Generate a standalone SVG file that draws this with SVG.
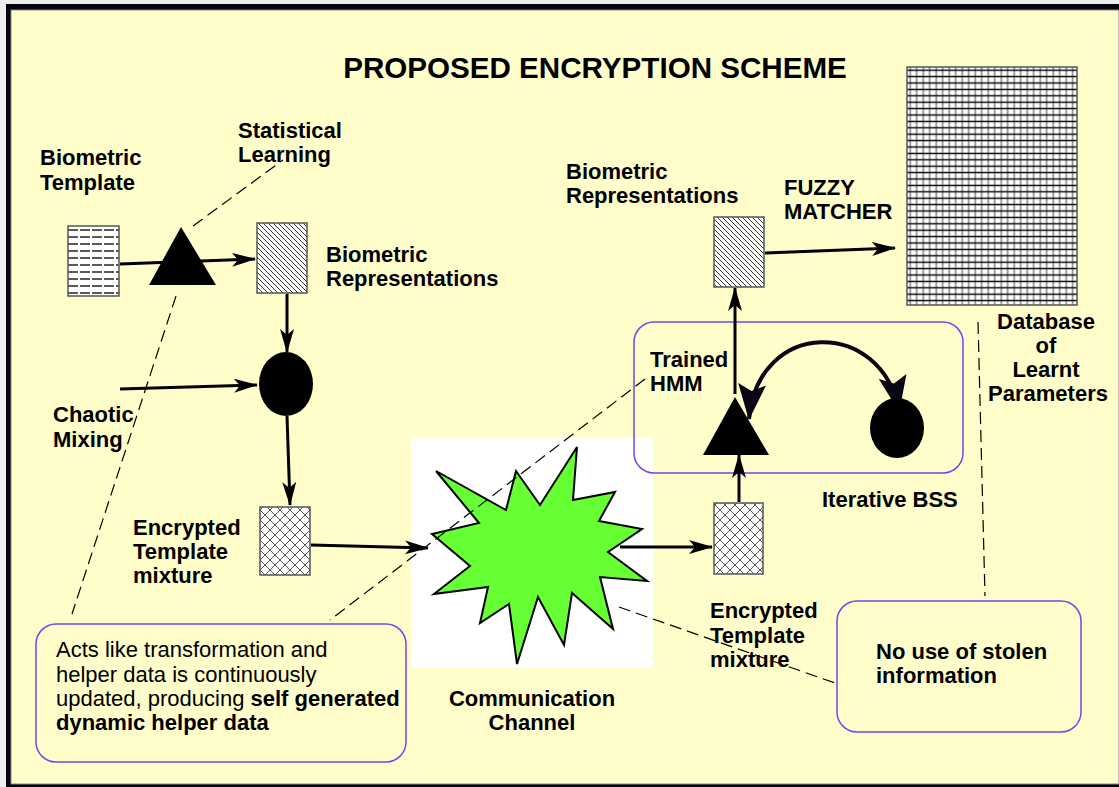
<svg xmlns="http://www.w3.org/2000/svg" width="1119" height="787" viewBox="0 0 1119 787">
<defs>
<style>
.t{font-family:"Liberation Sans",Arial,sans-serif;font-size:22px;font-weight:bold;fill:#000}
.n{font-family:"Liberation Sans",Arial,sans-serif;font-size:22px;fill:#000}
.box{stroke:#555;stroke-width:1.5}
.conn{stroke:#000;stroke-width:3;fill:none;marker-end:url(#ah)}
.dash{stroke:#000;stroke-width:1.2;fill:none;stroke-dasharray:12 6}
.note{fill:none;stroke:#7744EE;stroke-width:1.5}
</style>
<marker id="ah" markerUnits="userSpaceOnUse" markerWidth="24" markerHeight="14" refX="23" refY="7" orient="auto">
<path d="M0,0 L24,7 L0,14 L6,7 Z" fill="#000"/>
</marker>
<marker id="ahb" markerUnits="userSpaceOnUse" markerWidth="36" markerHeight="28" refX="35" refY="14" orient="auto-start-reverse">
<path d="M0,0 L36,14 L0,28 L7,14 Z" fill="#0a0515"/>
</marker>
<pattern id="hl" patternUnits="userSpaceOnUse" width="12" height="7" x="68" y="226">
<rect width="12" height="7" fill="#fff"/>
<line x1="0" y1="4" x2="10" y2="4" stroke="#000" stroke-width="1.3"/>
</pattern>
<pattern id="dg" patternUnits="userSpaceOnUse" width="5" height="5">
<rect width="5" height="5" fill="#fff"/>
<path d="M-1,-1 L6,6 M-1,4 L1,6 M4,-1 L6,1" stroke="#333" stroke-width="1"/>
</pattern>
<pattern id="dm" patternUnits="userSpaceOnUse" width="10" height="10">
<rect width="10" height="10" fill="#fff"/>
<path d="M0,0 L10,10 M10,0 L0,10" stroke="#555" stroke-width="1"/>
</pattern>
<pattern id="gr" patternUnits="userSpaceOnUse" width="6.5" height="6.4" x="907" y="67">
<rect width="6.5" height="6.4" fill="#fff"/>
<line x1="3.2" y1="0" x2="3.2" y2="6.4" stroke="#888" stroke-width="1.6"/>
<line x1="0" y1="3.2" x2="6.5" y2="3.2" stroke="#000" stroke-width="1.4"/>
</pattern>
</defs>

<rect width="1119" height="787" fill="#eeeeee"/>
<rect x="6" y="4" width="1113" height="783" fill="#05030f"/>
<rect x="11" y="10" width="1108" height="774" fill="#FFFDC9" stroke="#888" stroke-width="1"/>

<text class="t" x="595" y="78" text-anchor="middle" style="font-size:29.6px">PROPOSED ENCRYPTION SCHEME</text>

<rect x="411" y="437" width="242" height="231" fill="#fff"/>
<g id="channel">
<polygon points="436,471 506,510 516,471 540,505 577,447 573,500 615,492 599,521 642,529 608,552 647,581 600,577 613,629 572,593 564,645 538,597 517,664 509,604 480,623 488,587 434,594 470,566 432,534 479,523" fill="#66FF33" stroke="#000" stroke-width="2" stroke-linejoin="miter"/>
<text class="t" x="532" y="706" text-anchor="middle">Communication</text>
<text class="t" x="532" y="730" text-anchor="middle">Channel</text>
</g>

<g id="bss-box">
<rect class="note" x="634" y="322" width="329" height="151" rx="20"/>
<text class="t" x="822" y="507">Iterative BSS</text>
</g>

<g id="dashed">
<line class="dash" x1="193" y1="226" x2="283" y2="160"/>
<line class="dash" x1="176" y1="296" x2="72" y2="614"/>
<line class="dash" x1="645" y1="379" x2="330" y2="620"/>
<line class="dash" x1="619" y1="607" x2="835" y2="683"/>
<line class="dash" x1="978" y1="322" x2="985" y2="596"/>
</g>

<g id="connectors">
<line class="conn" x1="120" y1="264" x2="255" y2="259"/>
<line class="conn" x1="287" y1="294" x2="287" y2="352"/>
<line class="conn" x1="120" y1="389" x2="257" y2="385"/>
<line class="conn" x1="287" y1="416" x2="290" y2="505"/>
<line class="conn" x1="311" y1="545" x2="428" y2="548"/>
<line class="conn" x1="620" y1="547" x2="712" y2="547"/>
<line class="conn" x1="739" y1="502" x2="739" y2="455"/>
<line class="conn" x1="735" y1="394" x2="735" y2="288"/>
<line class="conn" x1="765" y1="253" x2="895" y2="248"/>
<path d="M 749 419 C 758 318, 882 318, 899 411" stroke="#0a0515" stroke-width="4" fill="none" marker-start="url(#ahb)" marker-end="url(#ahb)"/>
</g>

<g id="template">
<rect class="box" x="68" y="226" width="51" height="70" fill="url(#hl)"/>
<text class="t" x="40" y="165">Biometric</text>
<text class="t" x="40" y="190">Template</text>
</g>

<g id="learning">
<polygon points="181,227 149,285 216,285" fill="#000"/>
<text class="t" x="238" y="138">Statistical</text>
<text class="t" x="238" y="162">Learning</text>
</g>

<g id="rep1">
<rect class="box" x="257" y="223" width="50" height="70" fill="url(#dg)"/>
<text class="t" x="326" y="262">Biometric</text>
<text class="t" x="326" y="286">Representations</text>
</g>

<g id="mixing">
<ellipse cx="286" cy="384" rx="27" ry="32" fill="#000"/>
<text class="t" x="53" y="422">Chaotic</text>
<text class="t" x="53" y="447">Mixing</text>
</g>

<g id="enc1">
<rect class="box" x="260" y="507" width="50" height="68" fill="url(#dm)"/>
<text class="t" x="133" y="535">Encrypted</text>
<text class="t" x="133" y="559">Template</text>
<text class="t" x="133" y="583">mixture</text>
</g>

<g id="enc2">
<rect class="box" x="714" y="503" width="49" height="71" fill="url(#dm)"/>
<text class="t" x="710" y="618">Encrypted</text>
<text class="t" x="710" y="643">Template</text>
<text class="t" x="710" y="667">mixture</text>
</g>

<g id="hmm">
<polygon points="735,397 703,455 769,455" fill="#000"/>
<text class="t" x="650" y="367">Trained</text>
<text class="t" x="650" y="391">HMM</text>
</g>

<g id="bss">
<ellipse cx="897" cy="428" rx="27" ry="30" fill="#000"/>
</g>

<g id="rep2">
<rect class="box" x="714" y="217" width="50" height="70" fill="url(#dg)"/>
<text class="t" x="566" y="179">Biometric</text>
<text class="t" x="566" y="203">Representations</text>
</g>

<g id="matcher">
<text class="t" x="784" y="195">FUZZY</text>
<text class="t" x="784" y="219">MATCHER</text>
</g>

<g id="database">
<rect class="box" x="907" y="67" width="170" height="238" fill="url(#gr)"/>
<text class="t" x="1046" y="329" text-anchor="middle">Database</text>
<text class="t" x="1046" y="353" text-anchor="middle">of</text>
<text class="t" x="1046" y="377" text-anchor="middle">Learnt</text>
<text class="t" x="1048" y="401" text-anchor="middle">Parameters</text>
</g>

<g id="helper-note">
<rect class="note" x="36" y="624" width="370" height="138" rx="20"/>
<text class="n" x="56" y="657">Acts like transformation and</text>
<text class="n" x="56" y="682">helper data is continuously</text>
<text class="n" x="56" y="706">updated, producing <tspan font-weight="bold">self generated</tspan></text>
<text class="t" x="56" y="730">dynamic helper data</text>
</g>

<g id="stolen-note">
<rect class="note" x="837" y="601" width="244" height="131" rx="20"/>
<text class="t" x="876" y="659">No use of stolen</text>
<text class="t" x="876" y="683">information</text>
</g>
</svg>
